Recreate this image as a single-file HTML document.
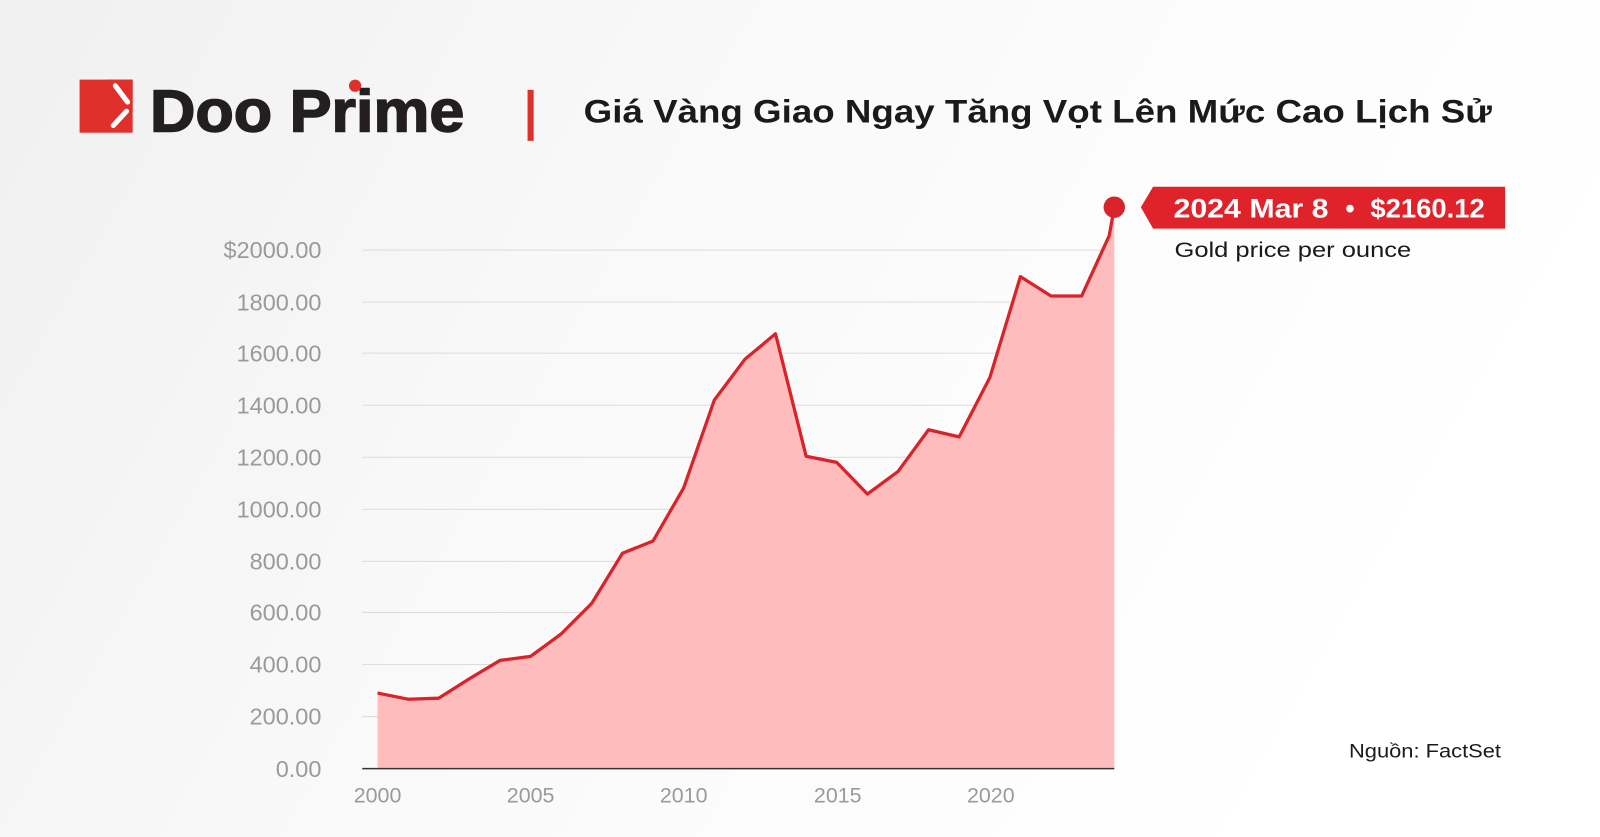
<!DOCTYPE html>
<html><head><meta charset="utf-8"><style>html,body{margin:0;padding:0;width:1600px;height:837px;overflow:hidden;background:#fff}</style></head>
<body>
<svg width="1600" height="837" viewBox="0 0 1568 820" preserveAspectRatio="none" xmlns="http://www.w3.org/2000/svg" font-family="Liberation Sans, sans-serif">
<defs>
<linearGradient id="bg" x1="0" y1="0" x2="1" y2="0.3">
<stop offset="0" stop-color="#f0f0f0"/><stop offset="0.45" stop-color="#f9f9f9"/><stop offset="1" stop-color="#ffffff"/>
</linearGradient>
</defs>
<rect width="1568" height="820" fill="url(#bg)"/>
<!-- logo -->
<rect x="78" y="78" width="52" height="52" fill="#e0302b"/>
<path d="M104 78 L130 78 L130 108 L104 130 Z" fill="#e0302b"/>
<line x1="113" y1="84" x2="125" y2="100" stroke="#fff" stroke-width="5" stroke-linecap="round"/>
<line x1="111" y1="123" x2="124" y2="109" stroke="#fff" stroke-width="5" stroke-linecap="round"/>
<text x="147" y="129" font-size="58" font-weight="bold" fill="#231f20" stroke="#231f20" stroke-width="1.5" textLength="308" lengthAdjust="spacingAndGlyphs">Doo Prime</text>
<circle cx="348" cy="84" r="6" fill="#e0302b"/>
<rect x="517" y="88" width="6" height="50" fill="#e0302b"/>
<text x="572" y="120" font-size="32" font-weight="bold" fill="#1a1a1a" textLength="890" lengthAdjust="spacingAndGlyphs">Giá Vàng Giao Ngay Tăng Vọt Lên Mức Cao Lịch Sử</text>
<!-- grid -->
<g stroke="#dcdcdc" stroke-width="1">
<line x1="355" y1="245" x2="1092" y2="245"/><line x1="355" y1="296" x2="1092" y2="296"/><line x1="355" y1="346" x2="1092" y2="346"/><line x1="355" y1="397" x2="1092" y2="397"/><line x1="355" y1="448" x2="1092" y2="448"/><line x1="355" y1="499" x2="1092" y2="499"/><line x1="355" y1="550" x2="1092" y2="550"/><line x1="355" y1="600" x2="1092" y2="600"/><line x1="355" y1="651" x2="1092" y2="651"/><line x1="355" y1="702" x2="1092" y2="702"/>
</g>
<g font-size="23" fill="#9a9a9a" text-anchor="end">
<text x="315" y="253">$2000.00</text><text x="315" y="304">1800.00</text><text x="315" y="354">1600.00</text><text x="315" y="405">1400.00</text><text x="315" y="456">1200.00</text><text x="315" y="507">1000.00</text><text x="315" y="558">800.00</text><text x="315" y="608">600.00</text><text x="315" y="659">400.00</text><text x="315" y="710">200.00</text><text x="315" y="761">0.00</text>
</g>
<g font-size="21" fill="#9a9a9a" text-anchor="middle">
<text x="370" y="786">2000</text><text x="520" y="786">2005</text><text x="670" y="786">2010</text><text x="821" y="786">2015</text><text x="971" y="786">2020</text>
</g>
<!-- area -->
<path d="M370 753 L370 679 L400 685 L430 684 L460 665 L490 647 L520 643 L550 621 L580 591 L610 542 L640 530 L670 478 L700 392 L730 352 L760 327 L790 447 L820 453 L850 484 L880 462 L910 421 L940 428 L970 370 L1000 271 L1030 290 L1060 290 L1087 231 L1092 203 L1092 753 Z" fill="#ffbcbc"/>
<polyline points="370,679 400,685 430,684 460,665 490,647 520,643 550,621 580,591 610,542 640,530 670,478 700,392 730,352 760,327 790,447 820,453 850,484 880,462 910,421 940,428 970,370 1000,271 1030,290 1060,290 1087,231 1092,203" fill="none" stroke="#d9232a" stroke-width="3.2" stroke-linejoin="round"/>
<line x1="355" y1="753" x2="1092" y2="753" stroke="#333" stroke-width="1.5"/>
<circle cx="1092" cy="203" r="10.5" fill="#d9232a"/>
<!-- label -->
<path d="M1118 203 L1130 183 H1475 V224 H1130 Z" fill="#e0232a"/>
<g font-size="26" font-weight="bold" fill="#fff">
<text x="1150" y="213" textLength="152" lengthAdjust="spacingAndGlyphs">2024 Mar 8</text>
<text x="1323" y="213" text-anchor="middle">•</text>
<text x="1343" y="213" textLength="112" lengthAdjust="spacingAndGlyphs">$2160.12</text>
</g>
<text x="1151" y="252" font-size="21" fill="#1a1a1a" textLength="232" lengthAdjust="spacingAndGlyphs">Gold price per ounce</text>
<text x="1322" y="742" font-size="19" fill="#1a1a1a" textLength="149" lengthAdjust="spacingAndGlyphs">Nguồn: FactSet</text>
</svg>
</body></html>
